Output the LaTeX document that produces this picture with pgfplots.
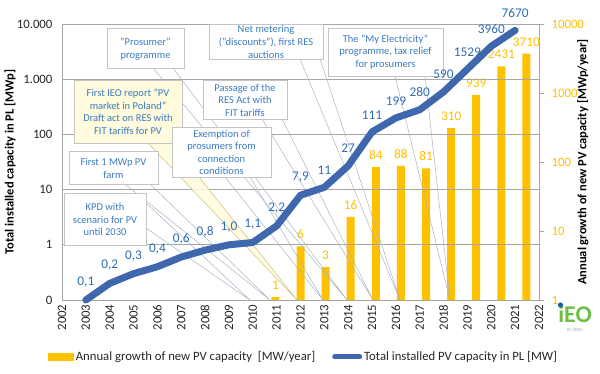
\documentclass[border=0pt]{standalone}
\usepackage{fontspec}
\setmainfont{Carlito}
\usepackage{pgfplots}
\pgfplotsset{compat=1.18}
\definecolor{gold}{HTML}{FFC000}
\definecolor{lineBlue}{HTML}{3E67AE}
\definecolor{labelBlue}{HTML}{2E6DB4}
\definecolor{calloutBlue}{HTML}{3A7BC0}
\definecolor{wedgeGray}{HTML}{A9B4C4}
\definecolor{boxGray}{HTML}{C4C4C4}
\definecolor{gridGray}{HTML}{A6A6A6}
\definecolor{yellowFill}{HTML}{FFFBDC}
\definecolor{yellowEdge}{HTML}{CDBE80}
\definecolor{logoGreen}{HTML}{6DBE45}
\definecolor{logoBlue}{HTML}{1F5FA8}
\begin{document}
\begin{tikzpicture}[x=1pt,y=1pt]
\path[use as bounding box] (0,0) rectangle (600,374);
% ---------- bars: right axis ----------
\begin{axis}[
  at={(62pt,74pt)}, anchor=south west,
  width=477pt, height=276pt, scale only axis,
  ymode=log, ymin=1, ymax=10000,
  xmin=2002.5, xmax=2021.5,
  axis x line=none, axis y line*=right,
  y axis line style={draw=gridGray, line width=0.8pt, -},
  ytick={1,10,100,1000,10000}, yticklabels={1,10,100,1000,10000},
  yminorticks=false,
  tick align=outside, major tick length=5pt,
  tick style={draw=gridGray, line width=0.8pt},
  yticklabel style={text=gold, font=\fontsize{12.8}{15}\selectfont, xshift=4pt},
  ylabel={\bfseries Annual growth of new PV capacity [MWp/year]},
  every axis y label/.style={at={(axis description cs:1.092,0.5)}, rotate=90, anchor=center, font=\fontsize{12.5}{15}\selectfont},
  ybar, bar width=8pt,
  nodes near coords, point meta=explicit symbolic,
  every node near coord/.append style={font=\fontsize{13.3}{15}\selectfont, text=gold, yshift=4pt},
  clip=false,
]
\addplot[fill=gold, draw=none] table[meta=label] {
x y label
2011 1.1 1
2012 6 6
2013 3 3
2014 16 16
2015 84 84
2016 88 88
2017 81 81
2018 310 310
2019 939 939
2020 2431 2431
2021 3710 3710
};
\end{axis}
% ---------- left axis: frame, grid, ticks, legend ----------
\begin{axis}[
  at={(62pt,74pt)}, anchor=south west,
  width=477pt, height=276pt, scale only axis,
  ymode=log, ymin=0.1, ymax=10000,
  xmin=2002, xmax=2022, clip=false,
  axis x line*=bottom, axis y line*=left,
  axis line style={draw=gridGray, line width=0.8pt, -},
  xtick={2002,...,2022},
  x tick label style={rotate=90, anchor=east, font=\fontsize{12.8}{15}\selectfont, text=black!85, /pgf/number format/1000 sep={}, xshift=-1pt},
  ytick={0.1,1,10,100,1000,10000}, yticklabels={0,1,10,100,1.000,10.000},
  yminorticks=false, major tick length=0pt,
  yticklabel style={font=\fontsize{12.8}{15}\selectfont, text=black!85, xshift=-6pt},
  ymajorgrids, grid style={draw=gridGray, line width=0.8pt},
  /pgf/number format/assume math mode=true,
  ylabel={\bfseries Total installed capacity in PL [MWp]},
  every axis y label/.style={at={(axis description cs:-0.109,0.5)}, rotate=90, anchor=center, font=\fontsize{12.5}{15}\selectfont},
  legend style={at={(axis description cs:0.507,-0.2065)}, anchor=center, draw=none, fill=none,
    legend columns=2, font=\fontsize{12.7}{15}\selectfont, text=black!85,
    /tikz/every even column/.append style={column sep=15pt}},
  legend cell align=left,
]
\addlegendimage{legend image code/.code={\fill[gold] (0pt,-3.5pt) rectangle (25pt,3.5pt);}}
\addlegendimage{legend image code/.code={\draw[lineBlue, line width=5pt, line cap=round] (2pt,0pt) -- (27pt,0pt);}}
\legend{Annual growth of new PV capacity\ \ [MW/year], Total installed PV capacity in PL [MW]}
\end{axis}
% ---------- callouts ----------
\begin{scope}[x=1pt, y=-1pt, yshift=374pt,
  wedge/.style={draw=wedgeGray, line width=0.5pt},
  box/.style={draw=boxGray, fill=white, line width=0.6pt},
  ctext/.style={text=calloutBlue, font=\fontsize{10.5}{12.6}\selectfont, align=center, inner sep=0pt}]
% wedges
\draw[wedge] (153,68) -- (347,300) -- (173,68);
\draw[wedge] (146,203) -- (250,300) -- (146,228);
\draw[wedge] (125,184) -- (270,300) -- (150,184);
\filldraw[fill=yellowFill, draw=yellowEdge, line width=0.5pt, fill opacity=0.85] (148,143) -- (297,300) -- (172,143);
\draw[wedge] (225,177) -- (323,300) -- (250,177);
\draw[wedge] (262,119) -- (373,300) -- (282,119);
\draw[wedge] (300,59) -- (400,300) -- (320,59);
\draw[wedge] (395,76) -- (450,300) -- (425,76);
% boxes
\draw[box] (107,28) rectangle (184,68);
\node[ctext] at (145.5,49) {"Prosumer"\\programme};
\draw[box] (209,24) rectangle (323,59);
\node[ctext] at (266,42) {Net metering\\("discounts"), first RES\\auctions};
\draw[box] (328,28) rectangle (443,76);
\node[ctext] at (385.5,52) {The "My Electricity"\\programme, tax relief\\for prosumers};
\filldraw[fill=yellowFill, draw=boxGray, line width=0.6pt] (74,80) rectangle (182,143);
\node[ctext] at (128,112) {First IEO report "PV\\market in Poland"\\Draft act on RES with\\FIT tariffs for PV};
\draw[box] (203,80) rectangle (287,119);
\node[ctext] at (245,100) {Passage of the\\RES Act with\\FIT tariffs};
\draw[box] (172,127) rectangle (271,177);
\node[ctext] at (221.5,152.5) {Exemption of\\prosumers from\\connection\\conditions};
\draw[box] (69,151) rectangle (158,184);
\node[ctext] at (113.5,168.5) {First 1 MWp PV\\farm};
\draw[box] (64,193) rectangle (146,245);
\node[ctext] at (105,219.5) {KPD with\\scenario for PV\\until 2030};
% logo
\node[text=logoGreen, font=\bfseries\fontsize{24}{24}\selectfont, inner sep=0pt] at (575,314) {iEO};
\fill[logoBlue] (560.5,305) circle (2.6);
\node[text=gray!70, font=\fontsize{5.5}{6}\selectfont, inner sep=0pt] at (575,330) {ec brec};
\end{scope}
% ---------- line series on top ----------
\begin{axis}[
  at={(62pt,74pt)}, anchor=south west,
  width=477pt, height=276pt, scale only axis,
  ymode=log, ymin=0.1, ymax=10000,
  xmin=2002, xmax=2022, clip=false, hide axis]
\addplot[color=lineBlue, line width=7pt, line join=round, line cap=round,
  nodes near coords, point meta=explicit symbolic,
  every node near coord/.style={font=\fontsize{13.3}{15}\selectfont, text=labelBlue, anchor=south, yshift=6pt}]
table[meta=label] {
x y label
2003 0.1 0,1
2004 0.2 0,2
2005 0.3 0,3
2006 0.4 0,4
2007 0.6 0,6
2008 0.8 0,8
2009 1.0 1,0
2010 1.1 1,1
2011 2.2 2,2
2012 7.9 7,9
2013 11 11
2014 27 27
2015 111 111
2016 199 199
2017 280 280
2018 590 590
2019 1529 1529
2020 3960 3960
2021 7670 7670
};
\end{axis}
\end{tikzpicture}
\end{document}
